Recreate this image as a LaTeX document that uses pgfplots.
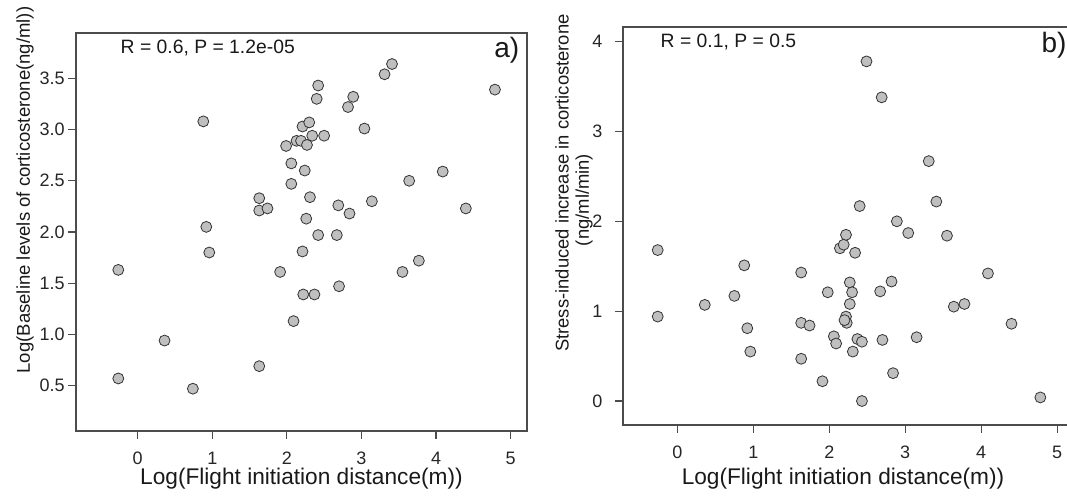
\documentclass[border=0pt]{standalone}
\usepackage{pgfplots}
\pgfplotsset{compat=1.18}
\usepackage{pgfplotstable}
\usepackage{fontspec}
\setmainfont{Liberation Sans}

% panel a: log FID vs log baseline corticosterone
\pgfplotstableread{
x y
-0.26 1.63
-0.26 0.57
0.36 0.94
0.74 0.47
0.88 3.08
0.92 2.05
0.96 1.80
1.63 2.33
1.63 2.21
1.74 2.23
1.63 0.69
1.91 1.61
1.99 2.84
2.06 2.67
2.06 2.47
2.09 1.13
2.13 2.89
2.19 2.89
2.21 3.03
2.27 2.85
2.30 3.07
2.34 2.94
2.50 2.94
2.24 2.60
2.31 2.34
2.26 2.13
2.21 1.81
2.42 1.97
2.22 1.39
2.37 1.39
2.40 3.30
2.42 3.43
2.67 1.97
2.69 2.26
2.70 1.47
2.82 3.22
2.89 3.32
2.84 2.18
3.04 3.01
3.14 2.30
3.31 3.54
3.41 3.64
3.55 1.61
3.64 2.50
3.77 1.72
4.09 2.59
4.40 2.23
4.79 3.39
}\basal

% panel b: log FID vs stress-induced increase
\pgfplotstableread{
x y
-0.26 1.68
-0.26 0.94
0.36 1.07
0.75 1.17
0.88 1.51
0.92 0.81
0.96 0.55
1.63 1.43
1.63 0.87
1.74 0.84
1.63 0.47
1.91 0.22
1.98 1.21
2.06 0.72
2.09 0.64
2.14 1.70
2.19 1.74
2.22 1.85
2.34 1.65
2.22 0.94
2.23 0.87
2.20 0.90
2.27 1.32
2.30 1.21
2.27 1.08
2.37 0.69
2.43 0.66
2.31 0.55
2.43 0.00
2.40 2.17
2.49 3.78
2.69 3.38
2.67 1.22
2.70 0.68
2.82 1.33
2.84 0.31
2.89 2.00
3.04 1.87
3.15 0.71
3.31 2.67
3.41 2.22
3.55 1.84
3.64 1.05
3.78 1.08
4.09 1.42
4.40 0.86
4.78 0.04
}\stress

\pgfplotsset{
  panel/.style={
    scale only axis, anchor=south west,
    axis line style={draw=black!70, line width=0.8pt},
    tick style={draw=black!70, line width=0.8pt},
    tick align=outside, major tick length=6pt,
    xtick pos=bottom, ytick pos=left,
    xtick={0,1,2,3,4,5},
    tick label style={font=\fontsize{13.5}{13.5}\selectfont, text=black!85},
    /pgf/number format/assume math mode=true,
    xticklabel shift=6pt,
    clip=false,
  },
  dots/.style={only marks, mark=*, mark size=4.1pt,
    mark options={fill=gray!50, draw=black!80, line width=0.6pt}},
}

\begin{document}
\begin{tikzpicture}
\useasboundingbox (0,0) rectangle (800.25pt,372pt);
\clip (0,0) rectangle (800.25pt,372pt);

\begin{axis}[panel, at={(57pt,48.75pt)}, width=338.25pt, height=298.5pt,
  xmin=-0.827, xmax=5.22, ymin=0.057, ymax=3.943,
  ytick={0.5,1,...,3.5},
  yticklabel style={/pgf/number format/.cd, fixed, fixed zerofill, precision=1},
  yticklabel shift=-1pt]
\addplot[dots] table[x=x, y=y] {\basal};
\end{axis}

\begin{axis}[panel, at={(467.25pt,53.25pt)}, width=337.5pt, height=298.5pt,
  xmin=-0.717, xmax=5.21, ymin=-0.267, ymax=4.163,
  ytick={0,1,2,3,4},
  yticklabel shift=6pt]
\addplot[dots] table[x=x, y=y] {\stress};
\end{axis}

\begin{scope}[every node/.style={text=black!90}]
\node[anchor=west, font=\fontsize{14.5}{14.5}\selectfont] at (87pt,336pt) {R = 0.6, P = 1.2e-05};
\node[anchor=east, font=\fontsize{21}{21}\selectfont] at (393pt,334.5pt) {a)};
\node[anchor=west, font=\fontsize{14.5}{14.5}\selectfont] at (492pt,340.5pt) {R = 0.1, P = 0.5};
\node[anchor=east, font=\fontsize{21}{21}\selectfont, inner xsep=0pt] at (800pt,338.25pt) {b)};
\node[rotate=90, font=\fontsize{13.9}{13.9}\selectfont] at (18.75pt,229.5pt) {Log(Baseline levels of corticosterone(ng/ml))};
\node[rotate=90, font=\fontsize{13.8}{13.8}\selectfont] at (421.5pt,234.75pt) {Stress-induced increase in corticosterone};
\node[rotate=90, font=\fontsize{13.8}{13.8}\selectfont] at (438pt,222pt) {(ng/ml/min)};
\node[font=\fontsize{17}{17}\selectfont] at (226.1pt,12.75pt) {Log(Flight initiation distance(m))};
\node[font=\fontsize{17}{17}\selectfont] at (632.25pt,12.75pt) {Log(Flight initiation distance(m))};
\end{scope}
\end{tikzpicture}
\end{document}
